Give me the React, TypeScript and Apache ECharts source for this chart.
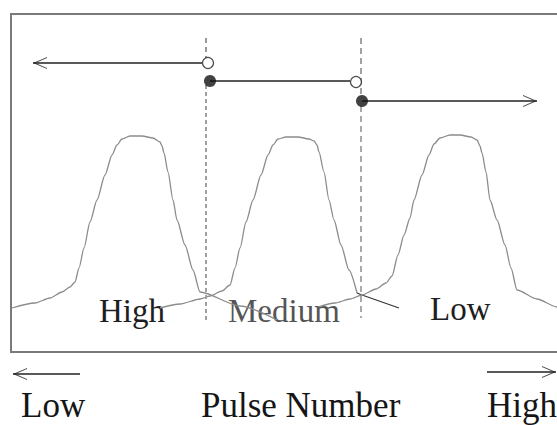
import React, { useEffect, useRef } from "react";
import * as echarts from "echarts";

// Units: x = position along pulse number, y = signal level (frame bottom = 0)
const tooth1: [number, number][] = [
  [1, 44], [24, 49], [39, 54], [51, 60], [59, 65], [64, 70], [68, 84], [73, 104],
  [79, 130], [86, 152], [94, 177], [101, 197], [106, 207], [111, 213], [119, 216],
  [131, 216], [142, 214], [149, 210], [151, 206], [153, 199], [157, 180], [162, 152],
  [166, 132], [174, 107], [182, 82], [189, 60], [229, 46], [266, 32],
];
const tooth2: [number, number][] = [
  [149, 44], [169, 48], [189, 53], [199, 56], [211, 61], [219, 67], [224, 84], [229, 104],
  [235, 130], [242, 152], [250, 177], [257, 197], [262, 207], [267, 213], [275, 215],
  [287, 215], [298, 213], [303, 211], [306, 207], [308, 200], [313, 180], [318, 152],
  [323, 132], [330, 107], [338, 82], [346, 59],
];
const tooth2Tail: [number, number][] = [[346, 59], [351, 57], [388, 44]];
const tooth3: [number, number][] = [
  [307, 45], [324, 49], [339, 53], [351, 57], [365, 63], [375, 69], [381, 76], [387, 97],
  [393, 117], [399, 134], [403, 152], [411, 177], [418, 197], [423, 208], [429, 214],
  [439, 217], [449, 217], [460, 215], [466, 212], [469, 206], [471, 199], [475, 180],
  [479, 152], [486, 132], [494, 107], [500, 84], [506, 62], [526, 53], [546, 45], [555, 41],
];

const boundary1Upper: [number, number][] = [[195, 314], [195, 294]];
const boundary1Lower: [number, number][] = [[195, 267], [195, 32]];
const boundary2Upper: [number, number][] = [[350, 314], [350, 257]];
const boundary2Lower: [number, number][] = [[350, 246], [350, 34]];

const openPoints: [number, number][] = [[197, 289], [345, 270]];
const filledPoints: [number, number][] = [[199, 271], [351, 251]];

const shaftTopLeft: [number, number][] = [[191, 289], [22, 289]];
const shaftMiddle: [number, number][] = [[199, 271], [339, 271]];
const shaftTopRight: [number, number][] = [[351, 251], [526, 251]];
const shaftBottomLeft: [number, number][] = [[69, -22], [2, -22]];
const shaftBottomRight: [number, number][] = [[476, -20], [545, -20]];
const leftTips: [number, number][] = [[22, 289], [2, -22]];
const rightTips: [number, number][] = [[526, 251], [545, -20]];

const regionLabels = ["High", "Medium", "Low"];
const axisLabels = ["Low", "Pulse Number", "High"];

const LEFT_HEAD = "path://M14,0 L0,6 L14,12 L14,10.9 L2.6,6 L14,1.1 Z";
const RIGHT_HEAD = "path://M0,0 L14,6 L0,12 L0,10.9 L11.4,6 L0,1.1 Z";

export default function App() {
  const ref = useRef<HTMLDivElement>(null);
  useEffect(() => {
    const chart = echarts.init(ref.current!, null, { renderer: "svg" });
    const line = (data: [number, number][], color: string, width: number, type: any = "solid", z = 2) => ({
      type: "line",
      data,
      showSymbol: false,
      symbol: "none",
      clip: false,
      silent: true,
      z,
      smooth: 0.25,
      smoothMonotone: "x",
      lineStyle: { color, width, type },
    });
    const straight = (data: [number, number][], color: string, width: number, type: any = "solid", z = 3) => ({
      ...line(data, color, width, type, z),
      smooth: false,
    });
    const serif = '"Liberation Serif", "Times New Roman", serif';
    const txt = (text: string, x: number, y: number, size: number, fill: string) => ({
      type: "text",
      x,
      y,
      silent: true,
      style: { text, fontSize: size, fontFamily: serif, fill, align: "left", verticalAlign: "middle" },
    });
    chart.setOption({
      animation: false,
      backgroundColor: "#ffffff",
      grid: {
        left: 11,
        top: 14,
        right: 0,
        bottom: 73,
        show: true,
        borderColor: "#7a7a7a",
        borderWidth: 2,
        backgroundColor: "#ffffff",
      },
      xAxis: { type: "value", min: 0, max: 555, show: false },
      yAxis: { type: "value", min: 0, max: 338, show: false },
      series: [
        line(tooth1, "#8c8c8c", 1.3),
        line(tooth2, "#8c8c8c", 1.3),
        straight(tooth2Tail, "#333333", 1.2, "solid", 2),
        line(tooth3, "#8c8c8c", 1.3),
        straight(boundary1Upper, "#333333", 1, [5, 4]),
        straight(boundary1Lower, "#a0a0a0", 2, [4, 3]),
        straight(boundary2Upper, "#444444", 1, [6, 4]),
        straight(boundary2Lower, "#555555", 1, [6, 4]),
        straight(shaftTopLeft, "#222222", 1.3),
        straight(shaftMiddle, "#222222", 1.5),
        straight(shaftTopRight, "#222222", 1.3),
        straight(shaftBottomLeft, "#222222", 1.3),
        straight(shaftBottomRight, "#222222", 1.3),
        {
          type: "scatter",
          data: leftTips,
          symbol: LEFT_HEAD,
          symbolSize: [14, 12],
          symbolOffset: [7, 0],
          clip: false,
          silent: true,
          z: 4,
          itemStyle: { color: "#222222" },
        },
        {
          type: "scatter",
          data: rightTips,
          symbol: RIGHT_HEAD,
          symbolSize: [14, 12],
          symbolOffset: [-7, 0],
          clip: false,
          silent: true,
          z: 4,
          itemStyle: { color: "#222222" },
        },
        {
          type: "scatter",
          data: openPoints,
          symbol: "circle",
          symbolSize: 11,
          clip: false,
          silent: true,
          z: 5,
          itemStyle: { color: "#ffffff", borderColor: "#222222", borderWidth: 1.2 },
        },
        {
          type: "scatter",
          data: filledPoints,
          symbol: "circle",
          symbolSize: 12,
          clip: false,
          silent: true,
          z: 5,
          itemStyle: { color: "#111111" },
        },
      ],
      graphic: [
        txt(regionLabels[0], 99, 311, 33, "#1e1e1e"),
        txt(regionLabels[1], 228, 311, 33, "#555555"),
        txt(regionLabels[2], 430, 309, 33, "#1e1e1e"),
        txt(axisLabels[0], 21, 405, 35, "#151515"),
        txt(axisLabels[1], 201, 405, 35, "#151515"),
        txt(axisLabels[2], 487, 405, 35, "#151515"),
      ],
    });
    return () => chart.dispose();
  }, []);
  return (
    <div
      ref={ref}
      style={{ position: "fixed", left: 0, top: 0, width: 566, height: 425, background: "#ffffff" }}
    />
  );
}
